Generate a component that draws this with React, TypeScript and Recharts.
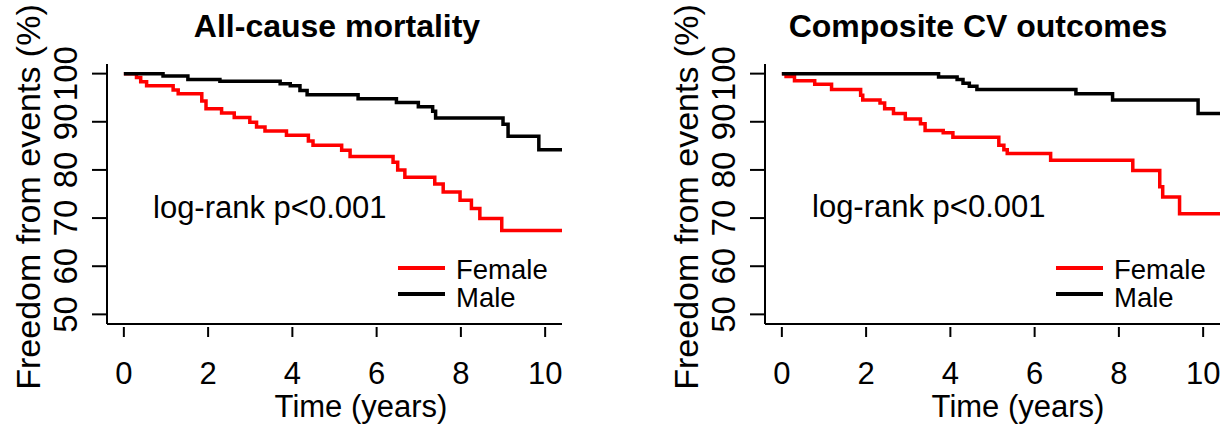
import React from "react";
import { LineChart, Line, XAxis, YAxis, Legend } from "recharts";

const yearTicks = [0, 2, 4, 6, 8, 10];
const survTicks = [50, 60, 70, 80, 90, 100];
const panelTitles = ["All-cause mortality", "Composite CV outcomes"];
const seriesNames = ["Female", "Male"];
const pLabel = "log-rank p<0.001";

// all-cause mortality
const mortFemaleTime = [0, 0.3, 0.4, 0.54, 1.17, 1.29, 1.85, 1.95, 2.32, 2.62, 2.99, 3.15, 3.35, 3.86, 4.38, 4.49, 5.17, 5.37, 6.39, 6.5, 6.67, 7.38, 7.58, 7.98, 8.25, 8.45, 8.97, 10.4];
const mortFemaleSurv = [100, 99.2, 98.3, 97.5, 96.6, 95.8, 94.3, 92.7, 91.8, 90.9, 89.9, 88.9, 88.1, 87.2, 86.0, 85.1, 84.1, 82.8, 81.6, 80.0, 78.5, 77.1, 75.4, 73.7, 72.0, 69.9, 67.4, 67.4];
const mortMaleTime = [0, 0.93, 1.52, 2.28, 3.71, 3.95, 4.18, 4.35, 5.56, 6.47, 6.99, 7.33, 7.4, 9.0, 9.12, 9.85, 10.4];
const mortMaleSurv = [100, 99.5, 98.8, 98.4, 97.9, 97.5, 96.5, 95.6, 94.8, 94.0, 93.1, 92.2, 90.8, 89.5, 87.0, 84.2, 84.2];

// composite CV outcomes
const cvFemaleTime = [0, 0.1, 0.3, 0.78, 1.18, 1.87, 1.92, 2.33, 2.44, 2.65, 2.93, 3.29, 3.4, 3.83, 4.06, 5.15, 5.27, 5.35, 6.38, 8.33, 8.97, 9.04, 9.44, 10.4];
const cvFemaleSurv = [100, 99.4, 98.5, 97.8, 96.7, 95.5, 94.5, 93.9, 92.7, 91.7, 90.6, 89.6, 88.2, 87.7, 86.8, 85.1, 84.2, 83.4, 82.0, 79.9, 76.5, 74.4, 70.9, 70.9];
const cvMaleTime = [0, 3.72, 4.16, 4.3, 4.45, 4.63, 6.98, 7.85, 9.88, 10.4];
const cvMaleSurv = [100, 99.3, 98.8, 98.0, 97.4, 96.7, 95.8, 94.5, 91.7, 91.7];

const toSeries = (time: number[], surv: number[]) => time.map((t, i) => ({ t, s: surv[i] }));

const FONT = '"Liberation Sans", Arial, sans-serif';

const XTick = (props: any) => {
	const { x, y, payload } = props;
	return (
		<g>
			<line x1={x} x2={x} y1={y + 3} y2={y + 13} stroke="#000" strokeWidth={2} />
			<text x={x} y={y + 60} textAnchor="middle" fontSize={31} fontFamily={FONT} fill="#000">
				{payload.value}
			</text>
		</g>
	);
};

const YTick = (props: any) => {
	const { x, y, payload } = props;
	const lx = x - 41;
	return (
		<g>
			<line x1={x - 15} x2={x} y1={y} y2={y} stroke="#000" strokeWidth={2} />
			<text
				x={lx}
				y={y}
				transform={`rotate(-90 ${lx} ${y})`}
				textAnchor="middle"
				dominantBaseline="central"
				fontSize={33}
				fontFamily={FONT}
				fill="#000"
			>
				{payload.value}
			</text>
		</g>
	);
};

const renderLegend = (props: any) => {
	const items = props.payload || [];
	return (
		<svg width={180} height={70} style={{ overflow: "visible" }}>
			{items.map((it: any, i: number) => (
				<g key={it.value}>
					<line x1={8} x2={55} y1={18 + i * 26} y2={18 + i * 26} stroke={it.color} strokeWidth={4} />
					<text x={66} y={29 + i * 28} fontSize={27.5} fontFamily={FONT} fill="#000">
						{it.value}
					</text>
				</g>
			))}
		</svg>
	);
};

type PanelProps = {
	left: number;
	title: string;
	female: { t: number; s: number }[];
	male: { t: number; s: number }[];
	titleX: number;
	xTitleX: number;
	pX: number;
	pY: number;
};

const Panel = ({ left, title, female, male, titleX, xTitleX, pX, pY }: PanelProps) => {
	return (
		<div style={{ position: "absolute", left, top: 0, width: 570, height: 424 }}>
			<LineChart width={570} height={424} margin={{ top: 64, right: 8, bottom: 0, left: 0 }}>
				<XAxis
					type="number"
					dataKey="t"
					domain={[-0.4, 10.4]}
					ticks={yearTicks}
					height={100}
					tickSize={0}
					tickMargin={0}
					tickLine={false}
					tick={<XTick />}
					axisLine={{ stroke: "#000", strokeWidth: 2 }}
					allowDataOverflow
				/>
				<YAxis
					type="number"
					domain={[48, 102]}
					ticks={survTicks}
					width={107}
					tickSize={0}
					tickMargin={0}
					tickLine={false}
					tick={<YTick />}
					axisLine={{ stroke: "#000", strokeWidth: 2 }}
					allowDataOverflow
				/>
				<Legend
					layout="vertical"
					align="center"
					verticalAlign="middle"
					content={renderLegend}
					wrapperStyle={{ position: "absolute", left: 390, top: 250, width: 180, height: 70 }}
				/>
				<Line
					data={female}
					dataKey="s"
					type="stepAfter"
					stroke="#ff0000"
					strokeWidth={3.5}
					dot={false}
					name={seriesNames[0]}
					isAnimationActive={false}
				/>
				<Line
					data={male}
					dataKey="s"
					type="stepAfter"
					stroke="#000000"
					strokeWidth={3.5}
					dot={false}
					name={seriesNames[1]}
					isAnimationActive={false}
				/>
			</LineChart>
			<svg
				width={570}
				height={424}
				style={{ position: "absolute", left: 0, top: 0, pointerEvents: "none" }}
				fontFamily={FONT}
			>
				<text x={titleX} y={37} textAnchor="middle" fontSize={32} fontWeight="bold" fill="#000">
					{title}
				</text>
				<text
					x={28}
					y={197}
					transform="rotate(-90 28 197)"
					textAnchor="middle"
					dominantBaseline="central"
					fontSize={34}
					fill="#000"
				>
					Freedom from events (%)
				</text>
				<text x={xTitleX} y={417} textAnchor="middle" fontSize={31} fill="#000">
					Time (years)
				</text>
				<text x={pX} y={pY} fontSize={31} fill="#000">
					{pLabel}
				</text>
			</svg>
		</div>
	);
};

const App = () => {
	return (
		<div style={{ position: "absolute", left: 0, top: 0, width: 1228, height: 424, background: "#fff" }}>
			<Panel
				left={0}
				title={panelTitles[0]}
				female={toSeries(mortFemaleTime, mortFemaleSurv)}
				male={toSeries(mortMaleTime, mortMaleSurv)}
				titleX={337}
				xTitleX={361}
				pX={153}
				pY={218}
			/>
			<Panel
				left={658}
				title={panelTitles[1]}
				female={toSeries(cvFemaleTime, cvFemaleSurv)}
				male={toSeries(cvMaleTime, cvMaleSurv)}
				titleX={320}
				xTitleX={360}
				pX={154}
				pY={217}
			/>
		</div>
	);
};

export default App;
